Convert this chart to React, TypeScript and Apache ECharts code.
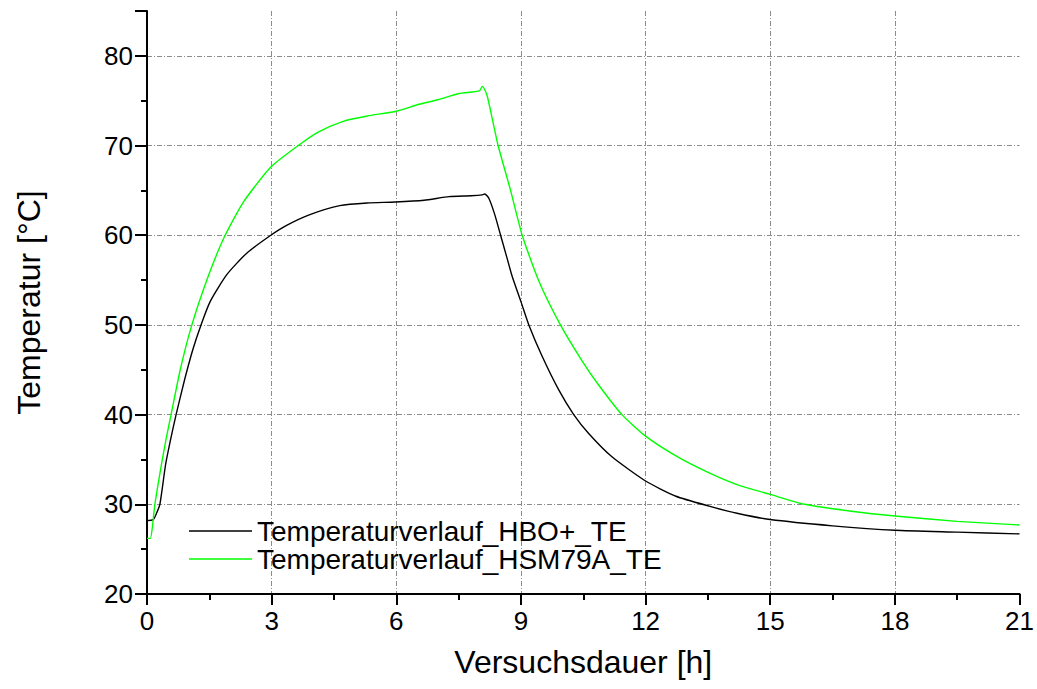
import React, { useEffect, useRef } from "react";
import * as echarts from "echarts";

const xTicks = [0, 3, 6, 9, 12, 15, 18, 21];
const yTicks = [20, 30, 40, 50, 60, 70, 80];

const seriesNames = ["Temperaturverlauf_HBO+_TE", "Temperaturverlauf_HSM79A_TE"];

const hboTime = [0, 0.15, 0.22, 0.31, 0.45, 0.58, 0.7, 0.9, 1.1, 1.3, 1.52, 1.92, 2.4, 2.98, 3.36, 3.92, 4.64, 5.3, 5.97, 6.67, 7.27, 7.8, 8.07, 8.13, 8.23, 8.37, 8.51, 8.65, 8.79, 9.0, 9.19, 9.51, 9.91, 10.27, 10.63, 11.19, 12.0, 12.73, 13.53, 14.2, 15.0, 16.5, 18.0, 19.5, 21.0];
const hboTemp = [28.2, 28.3, 28.9, 30.0, 34.5, 37.5, 40.0, 43.8, 47.2, 50.0, 52.6, 55.6, 58.0, 60.0, 61.1, 62.3, 63.3, 63.6, 63.7, 63.9, 64.3, 64.4, 64.5, 64.6, 64.1, 62.3, 60.0, 57.7, 55.4, 52.6, 50.0, 46.5, 42.75, 40.0, 37.9, 35.3, 32.6, 30.9, 29.8, 29.0, 28.3, 27.6, 27.1, 26.9, 26.7];

const hsmTime = [0, 0.08, 0.13, 0.19, 0.35, 0.46, 0.58, 0.8, 1.08, 1.48, 1.86, 2.32, 2.98, 3.64, 4.12, 4.72, 5.3, 5.97, 6.55, 7.0, 7.51, 8.0, 8.07, 8.12, 8.19, 8.3, 8.45, 8.75, 9.03, 9.43, 9.95, 10.47, 10.87, 11.43, 12.0, 12.73, 13.53, 14.2, 15.0, 15.83, 17.0, 18.0, 19.5, 21.0];
const hsmTemp = [26.2, 26.2, 27.5, 30.0, 34.5, 37.3, 40.0, 45.0, 50.0, 55.5, 59.8, 63.7, 67.6, 70.0, 71.5, 72.7, 73.3, 73.8, 74.6, 75.1, 75.8, 76.1, 76.6, 76.3, 75.5, 73.2, 70.0, 65.0, 60.0, 54.9, 50.0, 46.0, 43.3, 40.0, 37.6, 35.4, 33.5, 32.2, 31.1, 30.0, 29.2, 28.7, 28.1, 27.7];

const FONT = "'Liberation Sans', Arial, sans-serif";

export default function App() {
  const ref = useRef<HTMLDivElement>(null);
  useEffect(() => {
    document.body.style.margin = "0";
    const chart = echarts.init(ref.current!, undefined, { renderer: "svg" });
    const gridLine = { color: "#8c8c8c", width: 1, type: [5, 2, 1, 2] as any };
    chart.setOption({
      animation: false,
      backgroundColor: "#ffffff",
      textStyle: { fontFamily: FONT },
      grid: { left: 147, right: 15, top: 11, bottom: 95, containLabel: false },
      legend: {
        orient: "vertical",
        left: 184,
        top: 512,
        icon: "rect",
        itemWidth: 63,
        itemHeight: 1.5,
        itemGap: 0,
        data: seriesNames,
        textStyle: { fontSize: 28, color: "#000", fontFamily: FONT },
      },
      xAxis: {
        type: "value",
        min: 0,
        max: 21,
        interval: 3,
        name: "Versuchsdauer [h]",
        nameLocation: "middle",
        nameGap: 52,
        nameTextStyle: { fontSize: 32, color: "#000", fontFamily: FONT },
        axisLine: { lineStyle: { color: "#000", width: 2 } },
        axisTick: { length: 11, lineStyle: { color: "#000", width: 2 } },
        minorTick: { show: true, splitNumber: 2, length: 6, lineStyle: { color: "#000", width: 2 } },
        axisLabel: {
          margin: 14,
          fontSize: 26,
          color: "#000",
          fontFamily: FONT,
          formatter: (v: number) => (xTicks.includes(v) ? String(v) : ""),
        },
        splitLine: { show: true, showMinLine: false, showMaxLine: false, lineStyle: gridLine },
      },
      yAxis: [
        {
          type: "value",
          min: 20,
          max: 85,
          interval: 5,
          position: "left",
          axisLine: { show: false },
          axisTick: { length: 6, lineStyle: { color: "#000", width: 2 } },
          axisLabel: { show: false },
          splitLine: { show: false },
        },
        {
          type: "value",
          min: 20,
          max: 85,
          interval: 10,
          position: "left",
          name: "Temperatur [°C]",
          nameLocation: "middle",
          nameGap: 102,
          nameTextStyle: { fontSize: 32, color: "#000", fontFamily: FONT },
          axisLine: { show: true, lineStyle: { color: "#000", width: 2 } },
          axisTick: { length: 12, lineStyle: { color: "#000", width: 2 } },
          axisLabel: {
            margin: 14,
            fontSize: 26,
            color: "#000",
            fontFamily: FONT,
            formatter: (v: number) => (yTicks.includes(v) ? String(v) : ""),
          },
          splitLine: { show: true, showMinLine: false, showMaxLine: false, lineStyle: gridLine },
        },
      ],
      series: [
        {
          name: seriesNames[0],
          type: "line",
          yAxisIndex: 0,
          data: hboTime.map((t, i) => [t, hboTemp[i]]),
          showSymbol: false,
          symbol: "none",
          smooth: 0.2,
          lineStyle: { color: "#000000", width: 1.4 },
          itemStyle: { color: "#000000" },
        },
        {
          name: seriesNames[1],
          type: "line",
          yAxisIndex: 0,
          data: hsmTime.map((t, i) => [t, hsmTemp[i]]),
          showSymbol: false,
          symbol: "none",
          smooth: 0.2,
          lineStyle: { color: "#00ff00", width: 1.4 },
          itemStyle: { color: "#00ff00" },
        },
      ],
    });
    return () => chart.dispose();
  }, []);
  return <div ref={ref} style={{ width: 1037, height: 689 }} />;
}
